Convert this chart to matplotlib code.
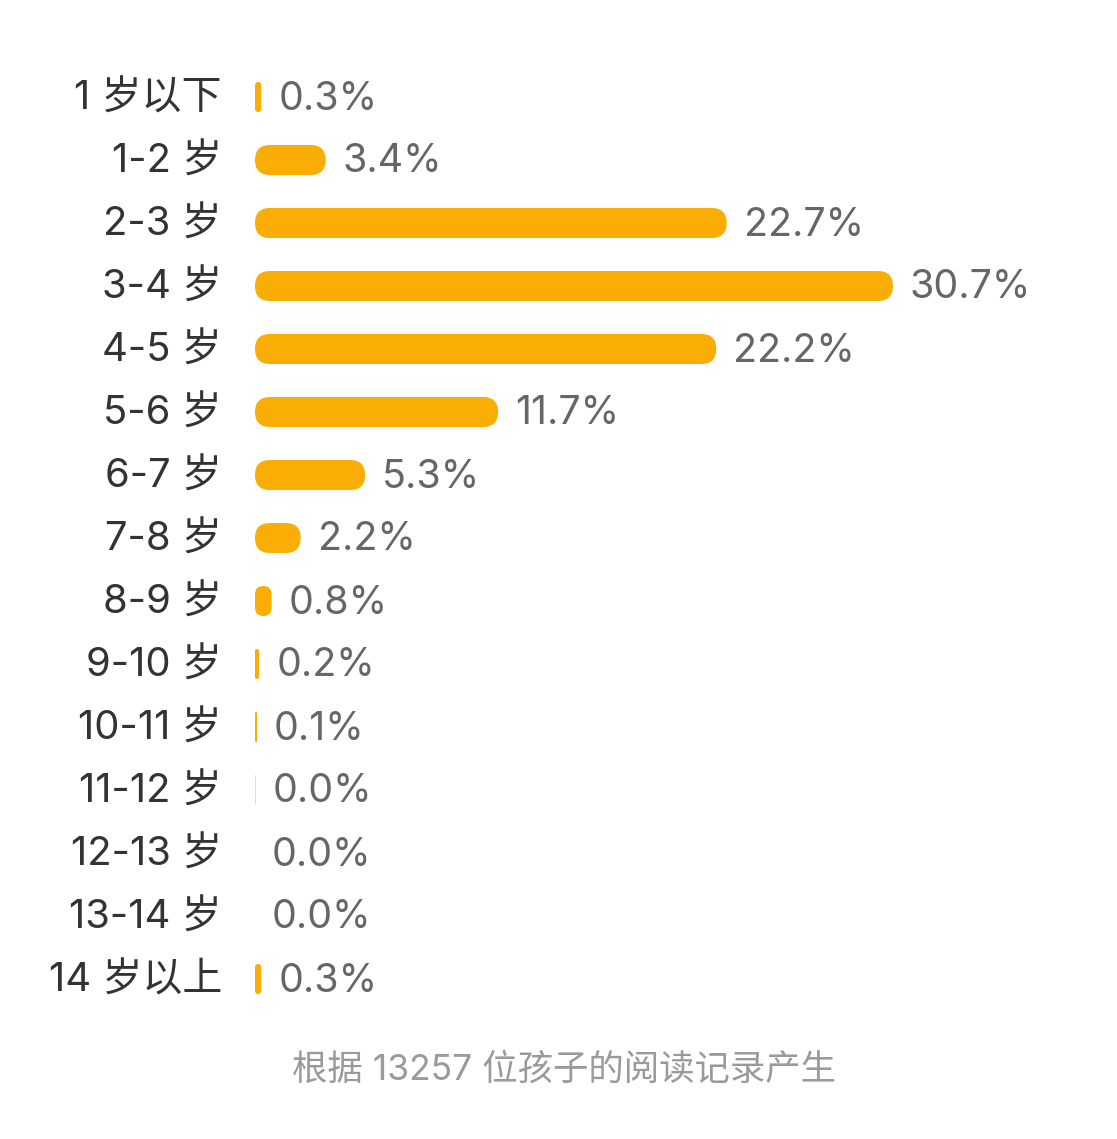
import matplotlib
matplotlib.use("Agg")
import matplotlib.pyplot as plt
from matplotlib.patches import FancyBboxPatch
from matplotlib.transforms import IdentityTransform

# 数字用 Inter, 中文回退到 Noto Sans CJK SC
plt.rcParams['font.family'] = ['Inter', 'Noto Sans CJK SC', 'DejaVu Sans']

# 年龄段与占比数据
age_labels = ["1 岁以下", "1-2 岁", "2-3 岁", "3-4 岁", "4-5 岁", "5-6 岁", "6-7 岁", "7-8 岁",
              "8-9 岁", "9-10 岁", "10-11 岁", "11-12 岁", "12-13 岁", "13-14 岁", "14 岁以上"]
shares = [0.3, 3.4, 22.7, 30.7, 22.2, 11.7, 5.3, 2.2, 0.8, 0.2, 0.1, 0.02, 0.0, 0.0, 0.3]
share_text = ["0.3%", "3.4%", "22.7%", "30.7%", "22.2%", "11.7%", "5.3%", "2.2%",
              "0.8%", "0.2%", "0.1%", "0.0%", "0.0%", "0.0%", "0.3%"]
footer = "根据 13257 位孩子的阅读记录产生"

W, H = 1117, 1139
BAR_COLOR = "#FAAD04"

fig = plt.figure(figsize=(W / 100, H / 100), dpi=100)
fig.patch.set_facecolor("white")

# 轴区域按像素定位: x=0 在 255px, 每 1% 约 20.78px; 行距 63px
px_per_pct = 20.78
x_max = 40
left = 255 / W
width = x_max * px_per_pct / W
top_px = 97 - 31.5
bot_px = 97 + 14 * 63 + 31.5
ax = fig.add_axes([left, (H - bot_px) / H, width, (bot_px - top_px) / H])
ax.set_xlim(0, x_max)
ax.set_ylim(len(age_labels) - 0.5, -0.5)
ax.axis("off")

fig.canvas.draw()

bar_h = 30
for i, v in enumerate(shares):
    x0, yc = ax.transData.transform((0, i))
    x1, _ = ax.transData.transform((v, i))
    w = x1 - x0
    if w > 0.3:
        r = min(bar_h / 2, w / 2)
        p = FancyBboxPatch((x0, yc - bar_h / 2), w, bar_h,
                           boxstyle=f"round,pad=0,rounding_size={r}",
                           transform=IdentityTransform(), facecolor=BAR_COLOR,
                           edgecolor="none")
        fig.patches.append(p)
    # 分类标签
    ax.annotate(age_labels[i], xy=(0, i), xytext=(-33 * 0.72, -2 * 0.72), textcoords="offset points",
                ha="right", va="center", fontsize=28.8, color="#333333", annotation_clip=False)
    # 数值标签
    ax.annotate(share_text[i], xy=(v, i), xytext=(17 * 0.72, -2 * 0.72), textcoords="offset points",
                ha="left", va="center", fontsize=28.3, color="#666666", annotation_clip=False)

fig.text(564 / W, 1 - 1070 / H, footer, ha="center", va="center", fontsize=25.5, color="#9a9a9a")

fig.savefig("out.png", dpi=100, facecolor="white")
